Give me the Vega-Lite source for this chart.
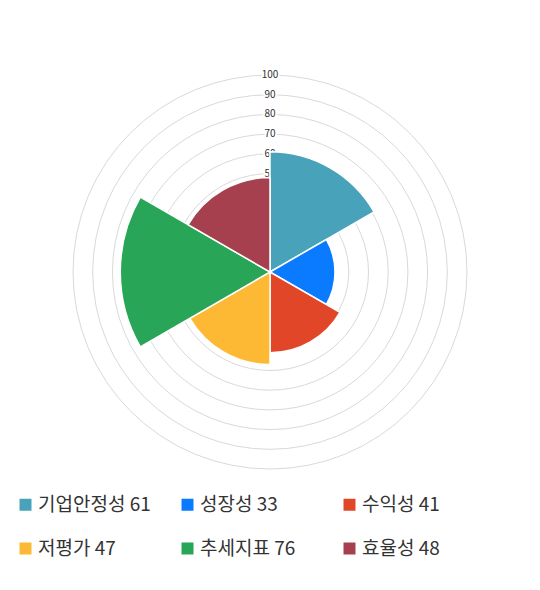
{
  "$schema": "https://vega.github.io/schema/vega-lite/v6.json",
  "width": 540,
  "height": 544,
  "padding": 0,
  "autosize": {"type": "pad"},
  "background": "white",
  "config": {
    "view": {"stroke": null},
    "font": "Noto Sans CJK KR"
  },
  "layer": [
    {
      "data": {"values": [
        {"ring": 10}, {"ring": 20}, {"ring": 30}, {"ring": 40}, {"ring": 50},
        {"ring": 60}, {"ring": 70}, {"ring": 80}, {"ring": 90}, {"ring": 100}
      ]},
      "mark": {"type": "arc", "theta": 0, "theta2": 6.2832, "fill": null, "stroke": "#d9d9d9", "strokeWidth": 1},
      "encoding": {
        "radius": {"field": "ring", "type": "quantitative", "stack": null, "scale": {"type": "linear", "domain": [0, 100], "range": [0, 197], "zero": true}}
      }
    },
    {
      "data": {"values": [
        {"ring": 10}, {"ring": 20}, {"ring": 30}, {"ring": 40}, {"ring": 50},
        {"ring": 60}, {"ring": 70}, {"ring": 80}, {"ring": 90}, {"ring": 100}
      ]},
      "mark": {"type": "text", "theta": 0, "fontSize": 10, "fontFamily": "Noto Sans CJK KR", "stroke": "white", "strokeWidth": 4, "strokeJoin": "round", "baseline": "middle", "align": "center"},
      "encoding": {
        "radius": {"field": "ring", "type": "quantitative", "stack": null},
        "text": {"field": "ring", "type": "quantitative"}
      }
    },
    {
      "data": {"values": [
        {"ring": 10}, {"ring": 20}, {"ring": 30}, {"ring": 40}, {"ring": 50},
        {"ring": 60}, {"ring": 70}, {"ring": 80}, {"ring": 90}, {"ring": 100}
      ]},
      "mark": {"type": "text", "theta": 0, "fontSize": 10, "fontFamily": "Noto Sans CJK KR", "color": "#333", "baseline": "middle", "align": "center"},
      "encoding": {
        "radius": {"field": "ring", "type": "quantitative", "stack": null},
        "text": {"field": "ring", "type": "quantitative"}
      }
    },
    {
      "data": {"values": [
        {"idx": 1, "name": "기업안정성", "value": 61, "share": 1},
        {"idx": 2, "name": "성장성", "value": 33, "share": 1},
        {"idx": 3, "name": "수익성", "value": 41, "share": 1},
        {"idx": 4, "name": "저평가", "value": 47, "share": 1},
        {"idx": 5, "name": "추세지표", "value": 76, "share": 1},
        {"idx": 6, "name": "효율성", "value": 48, "share": 1}
      ]},
      "transform": [
        {"calculate": "datum.name + ' ' + datum.value", "as": "label"},
        {"stack": "share", "groupby": [], "sort": [{"field": "idx", "order": "ascending"}], "as": ["t0", "t1"]}
      ],
      "mark": {"type": "arc", "stroke": "white", "strokeWidth": 1.5},
      "encoding": {
        "theta": {"field": "t0", "type": "quantitative", "stack": null, "scale": {"domain": [0, 6]}},
        "theta2": {"field": "t1"},
        "radius": {"field": "value", "type": "quantitative", "stack": null},
        "color": {
          "field": "label",
          "type": "nominal",
          "sort": null,
          "scale": {
            "domain": ["기업안정성 61", "성장성 33", "수익성 41", "저평가 47", "추세지표 76", "효율성 48"],
            "range": ["#48a2ba", "#0a7bff", "#e24628", "#fdb933", "#28a556", "#a6404f"]
          },
          "legend": {
            "title": null,
            "orient": "none",
            "legendX": 16,
            "legendY": 495,
            "direction": "horizontal",
            "columns": 3,
            "gridAlign": "all",
            "columnPadding": 27,
            "rowPadding": 24,
            "symbolType": "square",
            "symbolSize": 144,
            "symbolStrokeWidth": 0,
            "labelFontSize": 19,
            "labelFont": "Noto Sans CJK KR",
            "labelColor": "#333",
            "labelOffset": 3,
            "labelLimit": 300
          }
        }
      }
    }
  ]
}
